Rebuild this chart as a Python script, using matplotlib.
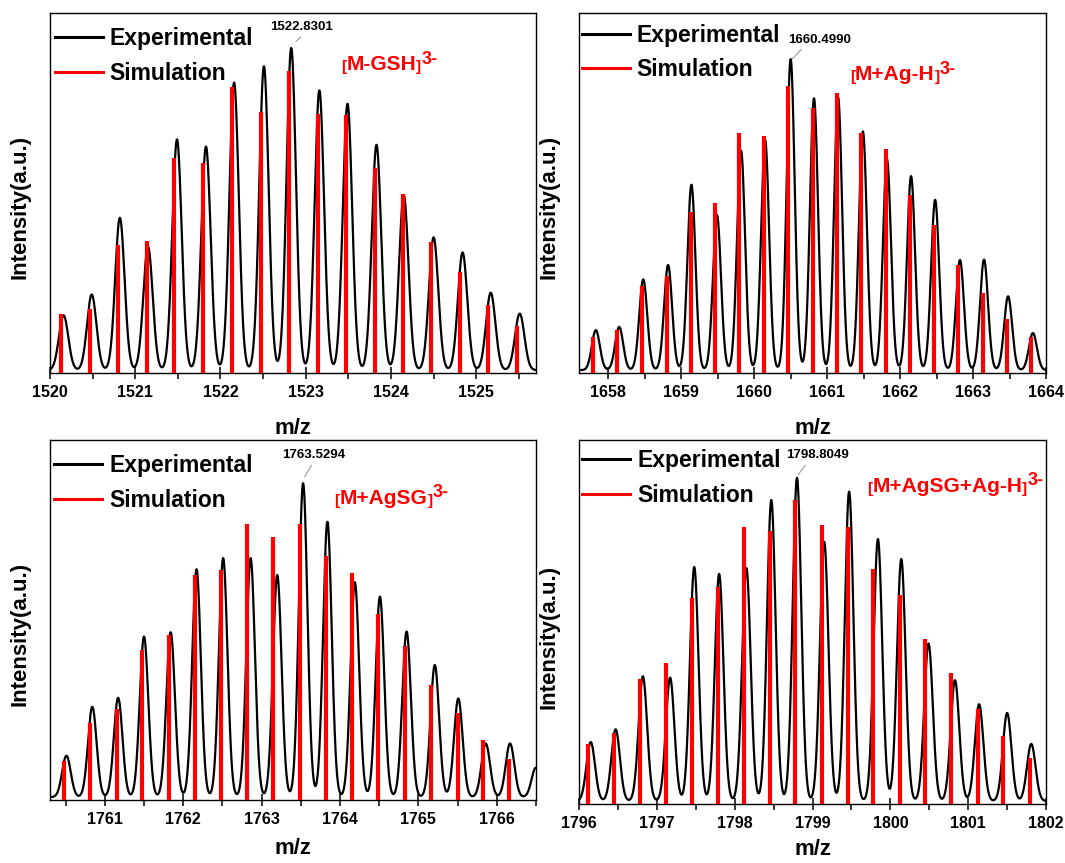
import numpy as np
import matplotlib
matplotlib.use('Agg')
from matplotlib import pyplot as plt
from matplotlib.ticker import MultipleLocator

plt.rcParams['font.family'] = ['Liberation Sans', 'DejaVu Sans']
plt.rcParams['font.weight'] = 'bold'

# [M-GSH]3-
sim_mz_1 = [1520.13, 1520.47, 1520.80, 1521.14, 1521.46, 1521.80, 1522.13, 1522.47, 1522.80,
            1523.14, 1523.47, 1523.81, 1524.14, 1524.47, 1524.81, 1525.14, 1525.48]
sim_int_1 = [0.163, 0.179, 0.355, 0.367, 0.596, 0.584, 0.794, 0.726, 0.840,
             0.720, 0.717, 0.570, 0.497, 0.363, 0.281, 0.188, 0.130]
exp_mz_1 = [1520.16, 1520.49, 1520.82, 1521.15, 1521.49, 1521.83, 1522.16, 1522.51, 1522.83,
            1523.16, 1523.49, 1523.83, 1524.15, 1524.50, 1524.84, 1525.17, 1525.51]
exp_int_1 = [0.160, 0.218, 0.431, 0.351, 0.649, 0.629, 0.807, 0.852, 0.903,
             0.785, 0.748, 0.634, 0.494, 0.377, 0.335, 0.223, 0.165]

# [M+Ag-H]3-
sim_mz_2 = [1657.79, 1658.12, 1658.46, 1658.80, 1659.13, 1659.46, 1659.79, 1660.13, 1660.46, 1660.80,
            1661.13, 1661.46, 1661.80, 1662.13, 1662.47, 1662.79, 1663.13, 1663.46, 1663.80]
sim_int_2 = [0.100, 0.119, 0.241, 0.269, 0.448, 0.471, 0.666, 0.657, 0.798, 0.737,
             0.779, 0.668, 0.622, 0.494, 0.411, 0.301, 0.223, 0.151, 0.100]
exp_mz_2 = [1657.83, 1658.15, 1658.48, 1658.82, 1659.14, 1659.49, 1659.82, 1660.15, 1660.50, 1660.82,
            1661.15, 1661.49, 1661.82, 1662.15, 1662.48, 1662.82, 1663.15, 1663.48, 1663.82]
exp_int_2 = [0.119, 0.128, 0.260, 0.300, 0.523, 0.439, 0.618, 0.647, 0.872, 0.763,
             0.766, 0.671, 0.594, 0.547, 0.481, 0.314, 0.315, 0.213, 0.111]

# [M+AgSG]3-
sim_mz_3 = [1760.48, 1760.81, 1761.15, 1761.48, 1761.82, 1762.15, 1762.48, 1762.82, 1763.15,
            1763.49, 1763.82, 1764.16, 1764.49, 1764.83, 1765.16, 1765.50, 1765.83, 1766.16]
sim_int_3 = [0.109, 0.215, 0.252, 0.417, 0.458, 0.625, 0.639, 0.766, 0.731,
             0.767, 0.678, 0.631, 0.516, 0.429, 0.319, 0.241, 0.167, 0.113]
exp_mz_3 = [1760.51, 1760.84, 1761.17, 1761.50, 1761.84, 1762.17, 1762.51, 1762.86, 1763.20,
            1763.53, 1763.84, 1764.19, 1764.51, 1764.85, 1765.21, 1765.51, 1765.86, 1766.17, 1766.50]
exp_int_3 = [0.123, 0.259, 0.284, 0.454, 0.466, 0.641, 0.672, 0.672, 0.625,
             0.880, 0.773, 0.605, 0.565, 0.468, 0.375, 0.282, 0.157, 0.157, 0.090]

# [M+AgSG+Ag-H]3-
sim_mz_4 = [1796.12, 1796.45, 1796.78, 1797.12, 1797.45, 1797.78, 1798.12, 1798.45, 1798.78,
            1799.12, 1799.45, 1799.78, 1800.12, 1800.45, 1800.78, 1801.12, 1801.45, 1801.79]
sim_int_4 = [0.165, 0.195, 0.342, 0.386, 0.567, 0.597, 0.760, 0.749, 0.836,
             0.766, 0.761, 0.646, 0.573, 0.452, 0.360, 0.260, 0.188, 0.127]
exp_mz_4 = [1796.15, 1796.47, 1796.82, 1797.17, 1797.48, 1797.80, 1798.15, 1798.47, 1798.80,
            1799.15, 1799.47, 1799.84, 1800.14, 1800.49, 1800.83, 1801.14, 1801.50, 1801.81]
exp_int_4 = [0.170, 0.205, 0.351, 0.347, 0.651, 0.632, 0.648, 0.835, 0.896,
             0.720, 0.858, 0.728, 0.673, 0.441, 0.340, 0.274, 0.250, 0.165]


def exp_trace(x, centers, heights, width=0.055, base=0.008):
    # sum of gaussian peaks on a flat baseline
    y = np.full_like(x, base)
    for c, h in zip(centers, heights):
        y += (h - base) * np.exp(-0.5 * ((x - c) / width) ** 2)
    return y


def species_label(ax, x, y, core):
    t1 = ax.text(x, y, '[', color='red', fontsize=11, fontweight='bold', va='baseline')
    t2 = ax.annotate(core, xy=(1, 0), xycoords=t1, va='bottom', color='red',
                     fontsize=15, fontweight='bold')
    t3 = ax.annotate(']', xy=(1, 0), xycoords=t2, va='bottom', color='red',
                     fontsize=11, fontweight='bold')
    ax.annotate('3-', xy=(1, 0.8), xycoords=(t3, t2), va='center', color='red',
                fontsize=13, fontweight='bold')


def draw_panel(ax, sim_mz, sim_int, exp_mz, exp_int, xlim, peak_text, peak_xy, text_xy,
               relx, species, species_xy, leg_anchor, ylab_x, xpad):
    x = np.linspace(xlim[0], xlim[1], 3000)
    ax.plot(x, exp_trace(x, exp_mz, exp_int), color='black', lw=1.6, zorder=2,
            label='Experimental')
    ax.vlines(sim_mz, 0, sim_int, color='red', lw=3, zorder=3)
    ax.plot([], [], color='red', lw=2.2, label='Simulation')
    ax.set_xlim(*xlim)
    ax.set_ylim(0, 1)
    ax.set_yticks([])
    ax.xaxis.set_major_locator(MultipleLocator(1))
    ax.xaxis.set_minor_locator(MultipleLocator(0.5))
    ax.xaxis.set_major_formatter(matplotlib.ticker.FormatStrFormatter('%d'))
    ax.tick_params(axis='x', which='major', direction='inout', length=9, width=1.1,
                   labelsize=11.5, pad=4)
    ax.tick_params(axis='x', which='minor', direction='out', length=4, width=1.1)
    for sp in ax.spines.values():
        sp.set_linewidth(1.0)
    for lbl in ax.get_xticklabels():
        lbl.set_fontweight('bold')
    ax.set_xlabel('m/z', fontsize=16, fontweight='bold', labelpad=xpad)
    ax.set_ylabel('Intensity(a.u.)', fontsize=16, fontweight='bold')
    ax.yaxis.set_label_coords(ylab_x, 0.46)

    leg = ax.legend(loc='upper left', bbox_to_anchor=leg_anchor, frameon=False,
                    fontsize=16.5, handlelength=2.1, handletextpad=0.3,
                    labelspacing=0.5, borderpad=0, borderaxespad=0)
    for t in leg.get_texts():
        t.set_fontweight('bold')
    for h in leg.get_lines():
        h.set_linewidth(2.2)

    ax.annotate(peak_text, xy=peak_xy, xytext=text_xy, ha='center', va='center',
                fontsize=9.5, fontweight='bold',
                arrowprops=dict(arrowstyle='-', color='0.55', lw=0.7,
                                shrinkA=1, shrinkB=0, relpos=(relx, 0)))
    species_label(ax, species_xy[0], species_xy[1], species)


fig = plt.figure(figsize=(10.65, 8.63), dpi=100)
ax1 = fig.add_axes([0.0469, 0.5678, 0.4563, 0.4171])
ax2 = fig.add_axes([0.5437, 0.5678, 0.4385, 0.4171])
ax3 = fig.add_axes([0.0469, 0.0730, 0.4563, 0.4171])
ax4 = fig.add_axes([0.5437, 0.0684, 0.4385, 0.4218])

draw_panel(ax1, sim_mz_1, sim_int_1, exp_mz_1, exp_int_1, (1520, 1525.7),
           '1522.8301', (1522.884, 0.921), (1522.953, 0.961), 0.55,
           'M-GSH', (1523.42, 0.838), (0.01, 0.961), -0.04, 13)
draw_panel(ax2, sim_mz_2, sim_int_2, exp_mz_2, exp_int_2, (1657.6, 1664),
           '1660.4990', (1660.52, 0.872), (1660.90, 0.926), 0.26,
           'M+Ag-H', (1661.31, 0.810), (0.006, 0.970), -0.042, 13)
draw_panel(ax3, sim_mz_3, sim_int_3, exp_mz_3, exp_int_3, (1760.3, 1766.5),
           '1763.5294', (1763.55, 0.898), (1763.66, 0.958), 0.51,
           'M+AgSG', (1763.93, 0.819), (0.009, 0.961), -0.04, 8)
draw_panel(ax4, sim_mz_4, sim_int_4, exp_mz_4, exp_int_4, (1796, 1802),
           '1798.8049', (1798.817, 0.905), (1799.065, 0.958), 0.35,
           'M+AgSG+Ag-H', (1799.70, 0.855), (0.007, 0.974), -0.042, 6)

fig.savefig('out.png', dpi=100)
